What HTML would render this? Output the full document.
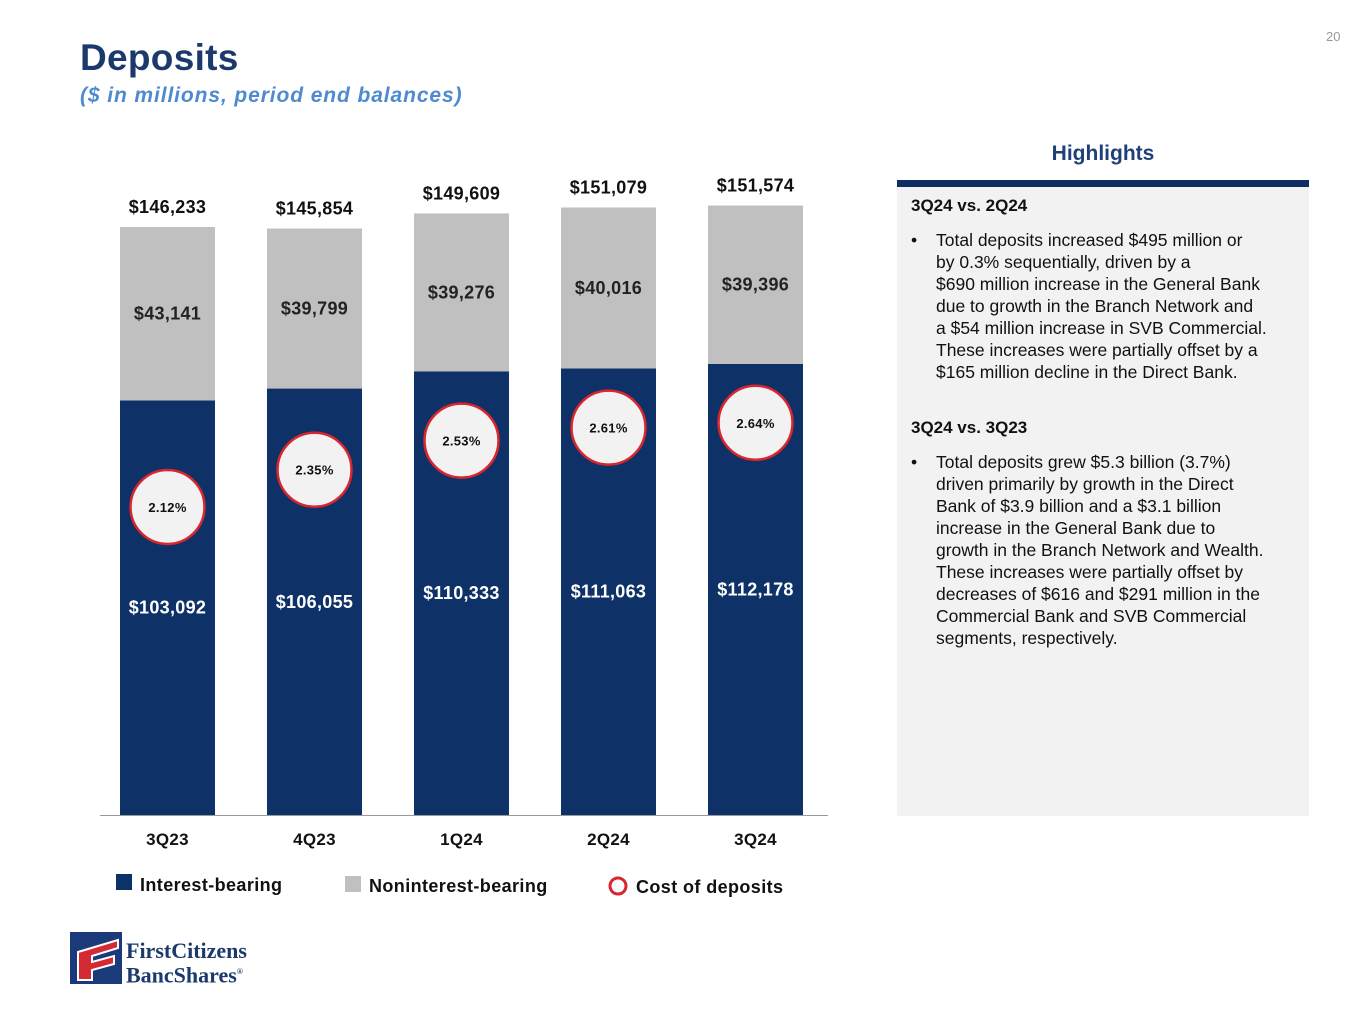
<!DOCTYPE html>
<html><head><meta charset="utf-8">
<style>
body{margin:0;width:1365px;height:1024px;background:#fff;font-family:"Liberation Sans",Arial,sans-serif;position:relative;overflow:hidden}
.abs{position:absolute}
#title{left:80px;top:37px;font-size:37px;font-weight:bold;color:#1b3a6b;letter-spacing:0.3px}
#sub{left:80px;top:84px;font-size:21px;font-weight:bold;font-style:italic;color:#4f8ad0;letter-spacing:0.9px}
#pg{left:1326px;top:29px;font-size:13px;color:#999}
#hl{left:897px;top:142px;width:412px;text-align:center;font-size:21px;font-weight:bold;color:#1f3f7a}
#panel{left:897px;top:180px;width:412px;height:636px;background:#f2f2f2;border-top:7px solid #0e2d63;box-sizing:border-box}
#panel .h{font-weight:bold;font-size:17px;color:#111;margin:12px 0 0 14px}
#panel ul{margin:13px 0 0 14px;padding:0;list-style:none;font-size:17.5px;line-height:22px;color:#111;white-space:nowrap}
#panel li{position:relative;padding-left:25px}
#panel li:before{content:"•";position:absolute;left:0}
</style></head><body>
<div id="title" class="abs">Deposits</div>
<div id="sub" class="abs">($ in millions, period end balances)</div>
<div id="pg" class="abs">20</div>
<div id="hl" class="abs">Highlights</div>
<div id="panel" class="abs">
<div class="h" style="margin-top:9px">3Q24 vs. 2Q24</div>
<ul><li>Total deposits increased $495 million or<br>by 0.3% sequentially, driven by a<br>$690 million increase in the General Bank<br>due to growth in the Branch Network and<br>a $54 million increase in SVB Commercial.<br>These increases were partially offset by a<br>$165 million decline in the Direct Bank.</li></ul>
<div class="h" style="margin-top:35px">3Q24 vs. 3Q23</div>
<ul><li>Total deposits grew $5.3 billion (3.7%)<br>driven primarily by growth in the Direct<br>Bank of $3.9 billion and a $3.1 billion<br>increase in the General Bank due to<br>growth in the Branch Network and Wealth.<br>These increases were partially offset by<br>decreases of $616 and $291 million in the<br>Commercial Bank and SVB Commercial<br>segments, respectively.</li></ul>
</div>
<svg class="abs" style="left:0;top:0" width="1365" height="1024" id="chart"></svg>
<div class="abs" style="left:70px;top:932px">
<svg width="52" height="52"><rect width="52" height="52" fill="#1b3a7a"/><path d="M8 20 L48 8 L48 16 L22 24 L22 30 L44 24 L44 32 L22 38 L22 48 L8 48 Z" fill="#d42a36" stroke="#fff" stroke-width="2"/></svg>
<div class="abs" style="left:56px;top:8px;font-family:'Liberation Serif',serif;font-size:22px;line-height:21px;color:#1b3a6b;font-weight:bold;white-space:nowrap">FirstCitizens<br>BancShares<sup style="font-size:8px">®</sup></div>
</div>
<script>
const categories=["3Q23","4Q23","1Q24","2Q24","3Q24"];
const interestBearing=[103092,106055,110333,111063,112178];
const nonInterest=[43141,39799,39276,40016,39396];
const totals=[146233,145854,149609,151079,151574];
const costOfDeposits=[2.12,2.35,2.53,2.61,2.64];
const svg=document.getElementById('chart');const NS='http://www.w3.org/2000/svg';
const base=815,k=588/146233;
const y=v=>base-v*k;
const x=i=>120+i*147;
const yc=r=>507-(r-2.12)*162;
const fmt=v=>'$'+v.toLocaleString('en-US');
function el(t,a,txt){const e=document.createElementNS(NS,t);for(const n in a)e.setAttribute(n,a[n]);if(txt!==undefined)e.textContent=txt;svg.appendChild(e);return e;}
function tx(xx,yy,s,fill,size){return el('text',{x:xx,y:yy,'text-anchor':'middle','font-size':size,'font-weight':'bold',fill:fill,'font-family':'Liberation Sans,Arial,sans-serif','letter-spacing':0.3},s);}
categories.forEach((c,i)=>{
 const yi=y(interestBearing[i]),yt=y(interestBearing[i]+nonInterest[i]);
 let r=el('rect',{x:x(i),y:yi,width:95,height:base-yi,fill:'#0e3167'});
 
 r=el('rect',{x:x(i),y:yt,width:95,height:yi-yt,fill:'#c0c0c0'});
 
 let t=tx(x(i)+47.5,(yi+base)/2+6,fmt(interestBearing[i]),'#fff',18);
 
 t=tx(x(i)+47.5,(yt+yi)/2+6,fmt(nonInterest[i]),'#222',18);
 
 t=tx(x(i)+47.5,y(totals[i])-14,fmt(totals[i]),'#111',18);
 
 const cy=yc(costOfDeposits[i]);
 const ci=el('circle',{cx:x(i)+47.5,cy:cy,r:37,fill:'#f2f2f2',stroke:'#d9262e','stroke-width':2.5});
 
 t=tx(x(i)+47.5,cy+5,costOfDeposits[i].toFixed(2)+'%','#111',13);
 
 t=tx(x(i)+47.5,845,c,'#111',17);
 
});
const ax=el('line',{x1:100,x2:828,y1:815.5,y2:815.5,stroke:'#999','stroke-width':1});

let lg=el('rect',{x:116,y:874,width:16,height:16,fill:'#0e3167'});

lg=el('text',{x:140,y:891,'font-size':18,'font-weight':'bold',fill:'#111','letter-spacing':0.4},'Interest-bearing');

lg=el('rect',{x:345,y:876,width:16,height:16,fill:'#c0c0c0'});

lg=el('text',{x:369,y:892,'font-size':18,'font-weight':'bold',fill:'#111','letter-spacing':0.4},'Noninterest-bearing');

lg=el('circle',{cx:618,cy:886,r:8,fill:'none',stroke:'#d9262e','stroke-width':3});

lg=el('text',{x:636,y:893,'font-size':18,'font-weight':'bold',fill:'#111','letter-spacing':0.4},'Cost of deposits');

</script>
</body></html>
